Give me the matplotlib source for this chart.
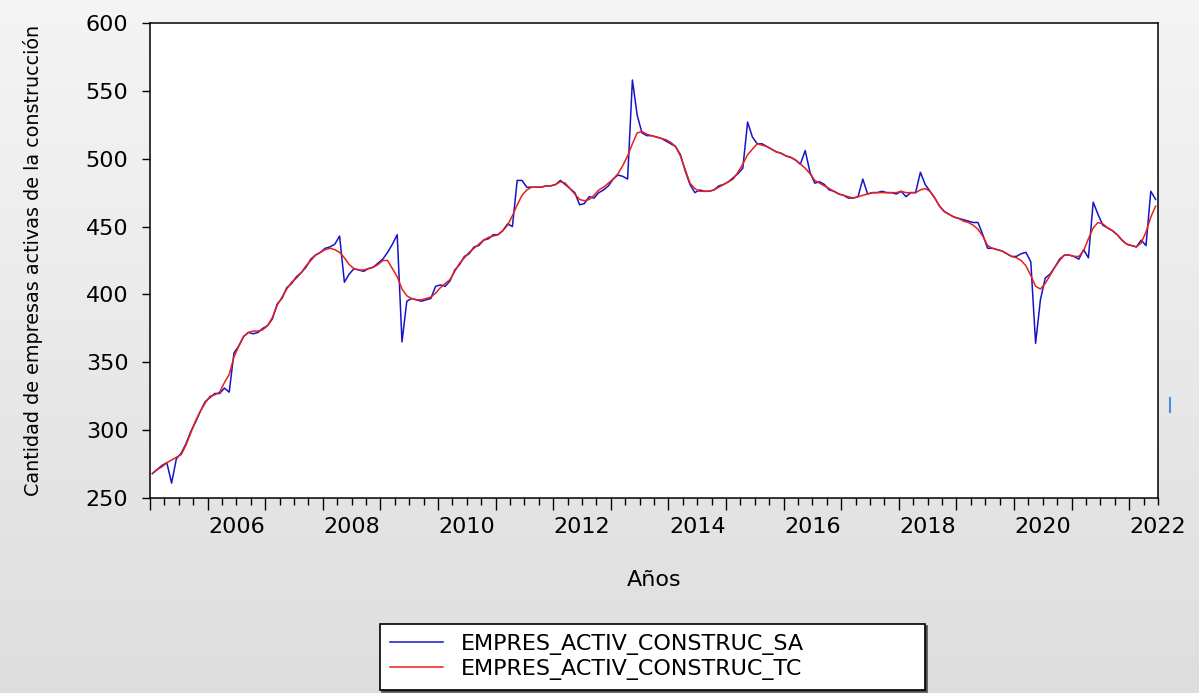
import numpy as np
import matplotlib
matplotlib.use('Agg')
import matplotlib.pyplot as plt
from matplotlib.ticker import FixedLocator, FuncFormatter
from matplotlib.lines import Line2D

# monthly series, 2005M01 .. 2022M06
sa_2005 = [268, 271, 274, 276, 261, 279, 283, 290, 299, 306, 314, 321]
sa_2006 = [324, 327, 327, 331, 328, 357, 362, 369, 372, 371, 372, 375]
sa_2007 = [377, 382, 393, 397, 405, 408, 413, 416, 420, 426, 429, 431]
sa_2008 = [434, 435, 437, 443, 409, 415, 419, 418, 417, 419, 420, 423]
sa_2009 = [426, 431, 437, 444, 365, 395, 397, 396, 395, 396, 397, 406]
sa_2010 = [407, 406, 410, 418, 422, 428, 430, 435, 436, 440, 441, 444]
sa_2011 = [444, 447, 452, 450, 484, 484, 479, 479, 479, 479, 480, 480]
sa_2012 = [481, 484, 481, 478, 475, 466, 467, 472, 471, 475, 477, 480]
sa_2013 = [485, 488, 487, 485, 558, 532, 519, 517, 517, 516, 515, 513]
sa_2014 = [511, 509, 503, 491, 481, 475, 477, 476, 476, 477, 480, 481]
sa_2015 = [483, 486, 489, 493, 527, 516, 511, 511, 509, 507, 505, 504]
sa_2016 = [502, 501, 499, 496, 506, 490, 482, 483, 481, 477, 476, 474]
sa_2017 = [473, 471, 471, 472, 485, 474, 475, 475, 476, 475, 475, 474]
sa_2018 = [476, 472, 475, 475, 490, 481, 476, 471, 465, 461, 459, 457]
sa_2019 = [456, 455, 454, 453, 453, 444, 434, 434, 433, 432, 430, 428]
sa_2020 = [428, 430, 431, 424, 364, 396, 412, 415, 420, 426, 429, 429]
sa_2021 = [428, 426, 433, 427, 468, 459, 451, 449, 447, 444, 440, 437]
sa_2022 = [436, 435, 440, 436, 476, 470]

tc_2005 = [268, 271, 273, 276, 278, 280, 282, 289, 298, 307, 314, 320]
tc_2006 = [325, 326, 328, 335, 341, 354, 362, 369, 372, 373, 373, 374]
tc_2007 = [377, 383, 392, 398, 404, 409, 412, 416, 421, 425, 429, 431]
tc_2008 = [433, 434, 433, 431, 427, 422, 419, 418, 418, 419, 420, 422]
tc_2009 = [425, 425, 419, 413, 404, 399, 397, 396, 396, 397, 398, 401]
tc_2010 = [405, 408, 411, 417, 423, 427, 431, 434, 437, 440, 442, 443]
tc_2011 = [444, 447, 451, 458, 466, 473, 477, 479, 479, 479, 480, 480]
tc_2012 = [481, 483, 482, 478, 474, 470, 469, 470, 473, 477, 479, 482]
tc_2013 = [485, 489, 495, 502, 511, 519, 520, 518, 517, 516, 515, 514]
tc_2014 = [512, 509, 502, 492, 482, 478, 476, 476, 476, 477, 479, 481]
tc_2015 = [483, 485, 490, 496, 503, 507, 511, 510, 509, 507, 505, 504]
tc_2016 = [502, 501, 499, 496, 493, 489, 484, 482, 480, 478, 476, 474]
tc_2017 = [473, 472, 471, 472, 473, 474, 475, 475, 475, 475, 475, 475]
tc_2018 = [476, 475, 475, 475, 477, 478, 476, 471, 465, 461, 459, 457]
tc_2019 = [456, 454, 453, 451, 448, 443, 436, 434, 433, 432, 430, 428]
tc_2020 = [427, 425, 421, 414, 406, 404, 408, 414, 420, 425, 429, 429]
tc_2021 = [428, 428, 432, 441, 449, 453, 452, 449, 447, 444, 440, 437]
tc_2022 = [436, 435, 438, 446, 457, 465]

sa = np.concatenate([sa_2005, sa_2006, sa_2007, sa_2008, sa_2009, sa_2010,
                     sa_2011, sa_2012, sa_2013, sa_2014, sa_2015, sa_2016,
                     sa_2017, sa_2018, sa_2019, sa_2020, sa_2021, sa_2022])
tc = np.concatenate([tc_2005, tc_2006, tc_2007, tc_2008, tc_2009, tc_2010,
                     tc_2011, tc_2012, tc_2013, tc_2014, tc_2015, tc_2016,
                     tc_2017, tc_2018, tc_2019, tc_2020, tc_2021, tc_2022])
t = 2005 + (np.arange(len(sa)) + 0.5) / 12.0

y_ticks = [250, 300, 350, 400, 450, 500, 550, 600]

plt.rcParams['font.family'] = ['DejaVu Sans']

fig = plt.figure(figsize=(11.99, 6.93), dpi=100)

# grey gradient background like the EViews window
bg = fig.add_axes([0, 0, 1, 1], zorder=-10)
grad = np.linspace(0.96, 0.87, 256).reshape(-1, 1)
bg.imshow(np.dstack([grad, grad, grad]), aspect='auto', extent=[0, 1, 0, 1])
bg.set_axis_off()

ax = fig.add_axes([150/1199, 1-498/693, (1158-150)/1199, (498-23)/693])
ax.set_facecolor('white')

ax.plot(t, sa, color='#1515c8', lw=1.1, label='EMPRES_ACTIV_CONSTRUC_SA')
ax.plot(t, tc, color='#e8201a', lw=1.1, label='EMPRES_ACTIV_CONSTRUC_TC')

ax.set_xlim(2005, 2022.5)
ax.set_ylim(250, 600)
ax.set_yticks(y_ticks)

years = np.arange(2005, 2023)
quarters = [q for q in np.arange(2005, 2022.51, 0.25) if q % 1 != 0]
ax.xaxis.set_major_locator(FixedLocator(years))
ax.xaxis.set_major_formatter(FuncFormatter(lambda x, p: ''))
ax.xaxis.set_minor_locator(FixedLocator(quarters))

def yr_label(x, p):
    if abs(x % 1 - 0.5) < 1e-6 and int(x) % 2 == 0:
        return str(int(x))
    return ''

ax.xaxis.set_minor_formatter(FuncFormatter(yr_label))

ax.tick_params(axis='x', which='major', direction='out', length=8.4, width=1.0)
ax.tick_params(axis='x', which='minor', direction='out', length=4.8, width=1.0,
               pad=9, labelsize=16)
ax.tick_params(axis='y', direction='out', length=6, width=1.0, pad=9.5, labelsize=16)
for s in ax.spines.values():
    s.set_linewidth(1.1)

fig.text(33/1199, 1-260/693, 'Cantidad de empresas activas de la construcción',
         rotation=90, ha='center', va='center', fontsize=13.8)
fig.text(654/1199, 1-580/693, 'Años', ha='center', va='center', fontsize=16)

leg = fig.legend(loc='lower left',
                 bbox_to_anchor=(380/1199, 1-690/693, (925-380)/1199, (690-626)/693),
                 mode='expand', fontsize=16, frameon=True, fancybox=False,
                 framealpha=1, labelspacing=0.2, handlelength=2.4, handletextpad=0.8,
                 borderpad=0.45, borderaxespad=0,
                 shadow={'ox': 1.5, 'oy': -1.5, 'color': '#505050', 'alpha': 1})
leg.get_frame().set_edgecolor('black')
leg.get_frame().set_linewidth(1.2)
leg.get_frame().set_facecolor('white')

# small cursor mark at the right edge
fig.add_artist(Line2D([1170/1199, 1170/1199], [1-398/693, 1-412/693],
                      color='#4a8fdc', lw=1.5))

fig.savefig('out.png', dpi=100)
